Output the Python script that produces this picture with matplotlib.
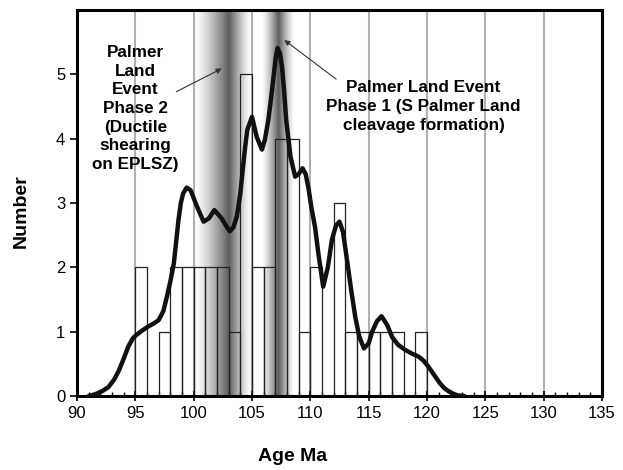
import numpy as np
import matplotlib.pyplot as plt

plt.rcParams.update({
    'font.family': ['Liberation Sans', 'DejaVu Sans'],
    'font.size': 12,
})

# histogram: 1 Ma bins starting at these ages, counts per bin
bin_left = [95, 96, 97, 98, 99, 100, 101, 102, 103, 104, 105, 106, 107, 108,
            109, 110, 111, 112, 113, 114, 115, 116, 117, 118, 119]
counts = [2, 0, 1, 2, 2, 2, 2, 2, 1, 5, 2, 2, 4, 4,
          1, 2, 0, 3, 1, 1, 1, 1, 1, 0, 1]

# probability curve
curve_x = [91.0, 91.6, 92.2, 92.7, 93.2, 93.6, 94.0, 94.4, 94.8, 95.1, 95.6, 96.1,
           96.6, 97.0, 97.4, 97.7, 98.0, 98.3, 98.5, 98.7, 98.9, 99.1, 99.4,
           99.73, 100.3, 100.85, 101.3, 101.77, 102.4, 102.8, 103.1, 103.4,
           103.7, 104.0, 104.2, 104.4, 104.6, 105.0, 105.4, 105.85, 106.1,
           106.4, 106.65, 106.85, 107.05, 107.2, 107.4, 107.57, 107.75,
           107.93, 108.3, 108.7, 109.0, 109.33, 109.6, 109.85, 110.1, 110.4,
           110.7, 111.1, 111.5, 111.85, 112.2, 112.5, 112.8, 113.1, 113.5,
           113.85, 114.2, 114.6, 115.0, 115.3, 115.7, 116.1, 116.6, 117.0,
           117.5, 118.1, 118.7, 119.3, 119.7, 120.1, 120.6, 121.1, 121.5,
           121.8, 122.2, 122.6, 123.2]
curve_y = [0.0, 0.03, 0.08, 0.14, 0.26, 0.40, 0.58, 0.77, 0.90, 0.95, 1.02, 1.08,
           1.13, 1.18, 1.32, 1.54, 1.78, 2.06, 2.40, 2.74, 3.00, 3.15, 3.24,
           3.20, 2.94, 2.71, 2.76, 2.89, 2.76, 2.64, 2.56, 2.62,
           2.79, 3.15, 3.51, 3.85, 4.14, 4.34, 4.03, 3.83, 3.98,
           4.29, 4.65, 4.97, 5.28, 5.41, 5.32, 5.12, 4.75,
           4.29, 3.72, 3.41, 3.45, 3.54, 3.45, 3.22, 2.92, 2.63,
           2.20, 1.70, 2.00, 2.43, 2.65, 2.71, 2.55, 2.17, 1.65,
           1.23, 0.92, 0.74, 0.82, 1.00, 1.16, 1.24, 1.10, 0.92,
           0.80, 0.72, 0.66, 0.61, 0.55, 0.46, 0.33, 0.20, 0.12,
           0.08, 0.04, 0.01, 0.0]

# shaded event bands: (left edge, darkest age, right edge)
bands = [(100.1, 103.0, 104.9), (105.8, 107.25, 108.6)]

fig = plt.figure(figsize=(6.23, 4.7), dpi=100)
ax = fig.add_axes([0.1236, 0.1574, 0.8427, 0.8213])

ax.set_xlim(90, 135)
ax.set_ylim(0, 6)

# grey gradient bands
xs = np.linspace(90, 135, 2000)
shade = np.zeros_like(xs)
for left, mid, right in bands:
    prof = np.interp(xs, [left, mid, right], [0, 1, 0])
    shade = np.maximum(shade, prof ** 1.3)
img = np.zeros((1, len(xs), 4))
img[..., 3] = shade * 0.64
ax.imshow(img, extent=[90, 135, 0, 6], aspect='auto', zorder=1,
          interpolation='bilinear')

ax.bar(bin_left, counts, width=1, align='edge', fill=False,
       edgecolor='#222222', linewidth=0.9, zorder=2)
ax.plot(curve_x, curve_y, color='#111111', linewidth=3.2, zorder=3,
        solid_joinstyle='round', solid_capstyle='round')

ax.set_xticks(range(90, 136, 5))
ax.set_xticks(range(90, 136, 1), minor=True)
ax.set_yticks(range(0, 6))
ax.xaxis.grid(True, color='#b0b0b0', linewidth=1.5, zorder=0)
ax.set_axisbelow(True)
ax.tick_params(axis='x', which='major', direction='inout', length=7, width=1.2)
ax.tick_params(axis='x', which='minor', direction='in', length=3, width=1)
ax.tick_params(axis='y', direction='out', length=5, width=1.2)
for s in ax.spines.values():
    s.set_linewidth(2.2)

ax.set_xlabel('Age Ma', fontsize=14, fontweight='bold')
ax.xaxis.set_label_coords(0.41, -0.135)
ax.set_ylabel('Number', fontsize=14, fontweight='bold')
ax.yaxis.set_label_coords(-0.09, 0.48)

ax.text(95.0, 4.47, 'Palmer\nLand\nEvent\nPhase 2\n(Ductile\nshearing\non EPLSZ)',
        ha='center', va='center', fontsize=12.3, fontweight='bold',
        linespacing=1.3, zorder=4)
ax.annotate('', xy=(102.62, 5.11), xytext=(98.3, 4.71),
            arrowprops=dict(arrowstyle='-|>', color='#333333', lw=0.8,
                            mutation_scale=8), zorder=4)

ax.text(119.7, 4.5, 'Palmer Land Event\nPhase 1 (S Palmer Land\ncleavage formation)',
        ha='center', va='center', fontsize=12.3, fontweight='bold',
        linespacing=1.3, zorder=4)
ax.annotate('', xy=(107.57, 5.56), xytext=(112.4, 4.9),
            arrowprops=dict(arrowstyle='-|>', color='#333333', lw=0.8,
                            mutation_scale=8), zorder=4)

fig.savefig('out.png', dpi=100)
